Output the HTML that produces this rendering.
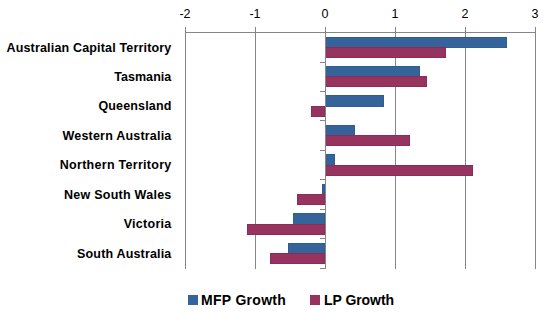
<!DOCTYPE html>
<html><head><meta charset="utf-8"><style>
html,body{margin:0;padding:0;background:#fff;}
#c{position:relative;width:553px;height:315px;overflow:hidden;background:#fff;font-family:"Liberation Sans",sans-serif;color:#000;}
svg{position:absolute;left:0;top:0;}
.cl{position:absolute;right:381px;height:16px;line-height:16px;font-size:12.5px;font-weight:bold;white-space:nowrap;text-align:right;}
.al{position:absolute;top:6px;width:40px;height:16px;line-height:16px;font-size:12.5px;text-align:center;}
.lg{position:absolute;top:292px;height:16px;line-height:16px;font-size:14px;letter-spacing:0.3px;font-weight:bold;white-space:nowrap;}
.sq{position:absolute;top:295px;width:10px;height:10px;}
</style></head><body><div id="c">
<svg width="553" height="315" viewBox="0 0 553 315">
<line x1="185.5" y1="27" x2="185.5" y2="269" stroke="#868686" stroke-width="1"/>
<line x1="255.5" y1="27" x2="255.5" y2="269" stroke="#868686" stroke-width="1"/>
<line x1="395.5" y1="27" x2="395.5" y2="269" stroke="#868686" stroke-width="1"/>
<line x1="465.5" y1="27" x2="465.5" y2="269" stroke="#868686" stroke-width="1"/>
<line x1="535.5" y1="27" x2="535.5" y2="269" stroke="#868686" stroke-width="1"/>
<line x1="185" y1="32.5" x2="536" y2="32.5" stroke="#868686" stroke-width="1"/>
<rect x="325.5" y="37.5" width="181" height="10" fill="#35649b" stroke="#2e5c93" stroke-width="1"/>
<rect x="325.5" y="66.5" width="94" height="10" fill="#35649b" stroke="#2e5c93" stroke-width="1"/>
<rect x="325.5" y="95.5" width="58" height="11" fill="#35649b" stroke="#2e5c93" stroke-width="1"/>
<rect x="325.5" y="125.5" width="29" height="10" fill="#35649b" stroke="#2e5c93" stroke-width="1"/>
<rect x="325.5" y="154.5" width="9" height="11" fill="#35649b" stroke="#2e5c93" stroke-width="1"/>
<rect x="322.5" y="184.5" width="2" height="10" fill="#35649b" stroke="#2e5c93" stroke-width="1"/>
<rect x="293.5" y="213.5" width="31" height="11" fill="#35649b" stroke="#2e5c93" stroke-width="1"/>
<rect x="288.5" y="243.5" width="36" height="10" fill="#35649b" stroke="#2e5c93" stroke-width="1"/>
<rect x="325.5" y="47.5" width="120" height="10" fill="#96335f" stroke="#8d2a59" stroke-width="1"/>
<rect x="325.5" y="76.5" width="101" height="10" fill="#96335f" stroke="#8d2a59" stroke-width="1"/>
<rect x="311.5" y="106.5" width="13" height="10" fill="#96335f" stroke="#8d2a59" stroke-width="1"/>
<rect x="325.5" y="135.5" width="84" height="10" fill="#96335f" stroke="#8d2a59" stroke-width="1"/>
<rect x="325.5" y="165.5" width="147" height="10" fill="#96335f" stroke="#8d2a59" stroke-width="1"/>
<rect x="297.5" y="194.5" width="27" height="10" fill="#96335f" stroke="#8d2a59" stroke-width="1"/>
<rect x="247.5" y="224.5" width="77" height="10" fill="#96335f" stroke="#8d2a59" stroke-width="1"/>
<rect x="270.5" y="253.5" width="54" height="10" fill="#96335f" stroke="#8d2a59" stroke-width="1"/>
<line x1="325.5" y1="27" x2="325.5" y2="269" stroke="#868686" stroke-width="1"/>
<line x1="320" y1="32.5" x2="325" y2="32.5" stroke="#868686" stroke-width="1"/>
<line x1="320" y1="62.5" x2="325" y2="62.5" stroke="#868686" stroke-width="1"/>
<line x1="320" y1="91.5" x2="325" y2="91.5" stroke="#868686" stroke-width="1"/>
<line x1="320" y1="120.5" x2="325" y2="120.5" stroke="#868686" stroke-width="1"/>
<line x1="320" y1="150.5" x2="325" y2="150.5" stroke="#868686" stroke-width="1"/>
<line x1="320" y1="179.5" x2="325" y2="179.5" stroke="#868686" stroke-width="1"/>
<line x1="320" y1="209.5" x2="325" y2="209.5" stroke="#868686" stroke-width="1"/>
<line x1="320" y1="238.5" x2="325" y2="238.5" stroke="#868686" stroke-width="1"/>
<line x1="320" y1="268.5" x2="325" y2="268.5" stroke="#868686" stroke-width="1"/>
</svg>
<div class="cl" style="top:39.5px;letter-spacing:0.17px;right:381.53px">Australian Capital Territory</div>
<div class="cl" style="top:68.9px;letter-spacing:0.06px;right:381.64px">Tasmania</div>
<div class="cl" style="top:98.4px;letter-spacing:0.15px;right:381.55px">Queensland</div>
<div class="cl" style="top:127.8px;letter-spacing:0.2px;right:381.50px">Western Australia</div>
<div class="cl" style="top:157.2px;letter-spacing:0.28px;right:381.42px">Northern Territory</div>
<div class="cl" style="top:186.7px;letter-spacing:0.26px;right:381.44px">New South Wales</div>
<div class="cl" style="top:216.1px;letter-spacing:0.28px;right:381.42px">Victoria</div>
<div class="cl" style="top:245.5px;letter-spacing:0.17px;right:381.53px">South Australia</div>
<div class="al" style="left:165px">-2</div>
<div class="al" style="left:235px">-1</div>
<div class="al" style="left:305px">0</div>
<div class="al" style="left:375px">1</div>
<div class="al" style="left:445px">2</div>
<div class="al" style="left:515px">3</div>
<div class="sq" style="left:188px;background:#35649b"></div>
<div class="lg" style="left:201px">MFP Growth</div>
<div class="sq" style="left:310px;background:#96335f"></div>
<div class="lg" style="left:324px;letter-spacing:-0.05px">LP Growth</div>
</div></body></html>
